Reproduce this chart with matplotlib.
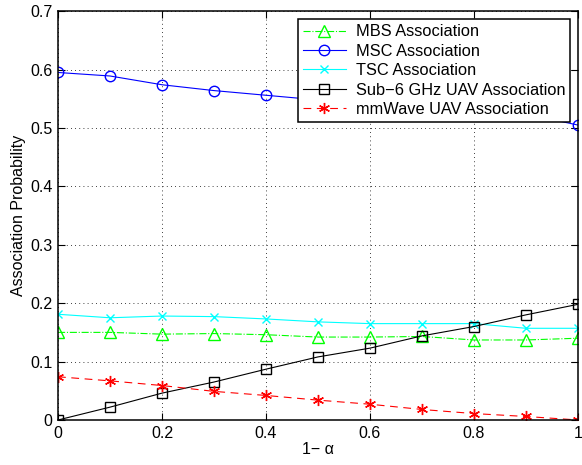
import matplotlib
matplotlib.use("Agg")
import matplotlib.pyplot as plt
import numpy as np

plt.rcParams['font.family'] = ['Liberation Sans', 'DejaVu Sans']

x = [0, 0.1, 0.2, 0.3, 0.4, 0.5, 0.6, 0.7, 0.8, 0.9, 1.0]
mbs = [0.150, 0.150, 0.147, 0.148, 0.146, 0.142, 0.142, 0.143, 0.137, 0.137, 0.140]
msc = [0.595, 0.589, 0.574, 0.564, 0.556, 0.548, 0.542, 0.536, 0.530, 0.524, 0.505]
tsc = [0.181, 0.175, 0.178, 0.177, 0.173, 0.168, 0.165, 0.165, 0.165, 0.157, 0.157]
sub6 = [0.0, 0.022, 0.046, 0.065, 0.087, 0.108, 0.123, 0.144, 0.160, 0.180, 0.198]
mmw = [0.074, 0.067, 0.059, 0.049, 0.042, 0.034, 0.027, 0.018, 0.011, 0.006, 0.0]

fig = plt.figure(figsize=(5.82, 4.65), dpi=100)
ax = fig.add_axes([0.0997, 0.0968, 0.8933, 0.8792])

ax.plot(x, mbs, '-.', color='#00ff00', marker='^', mfc='none', ms=8, lw=0.8, label='MBS Association')
ax.plot(x, msc, '-', color='#0000ff', marker='o', mfc='none', ms=7.5, lw=0.8, label='MSC Association')
ax.plot(x, tsc, '-', color='#00ffff', marker='x', ms=6, lw=0.8, label='TSC Association')
ax.plot(x, sub6, '-', color='black', marker='s', mfc='none', ms=6.5, lw=0.8, label='Sub\u22126 GHz UAV Association')
ax.plot(x, mmw, '--', color='#ff0000', marker=(6, 2, 0), ms=8, lw=0.8, dashes=(7, 5),
        label='mmWave UAV Association')

ax.set_xlim(0, 1)
ax.set_ylim(0, 0.7)
ax.set_xticks(np.arange(0, 1.01, 0.2))
ax.set_xticklabels(['0', '0.2', '0.4', '0.6', '0.8', '1'])
ax.set_yticks(np.arange(0, 0.71, 0.1))
ax.set_yticklabels(['0', '0.1', '0.2', '0.3', '0.4', '0.5', '0.6', '0.7'])
ax.tick_params(direction='in', top=True, right=True, labelsize=11.5, length=5, pad=4)
for s in ax.spines.values():
    s.set_linewidth(1.1)
ax.grid(True, linestyle=(0, (1, 4)), color='black', lw=0.6)
ax.set_xlabel('1\u2212 \u03b1', fontsize=11.5, labelpad=1)
ax.set_ylabel('Association Probability', fontsize=11.5, labelpad=3)

leg = ax.legend(loc='upper right', bbox_to_anchor=(0.985, 0.980), borderaxespad=0, fontsize=11.8,
                fancybox=False, edgecolor='black', framealpha=1,
                borderpad=0.3, labelspacing=0.27, handlelength=2.6, handletextpad=0.6)
leg.get_frame().set_linewidth(1.1)

fig.savefig('out.png', dpi=100)
